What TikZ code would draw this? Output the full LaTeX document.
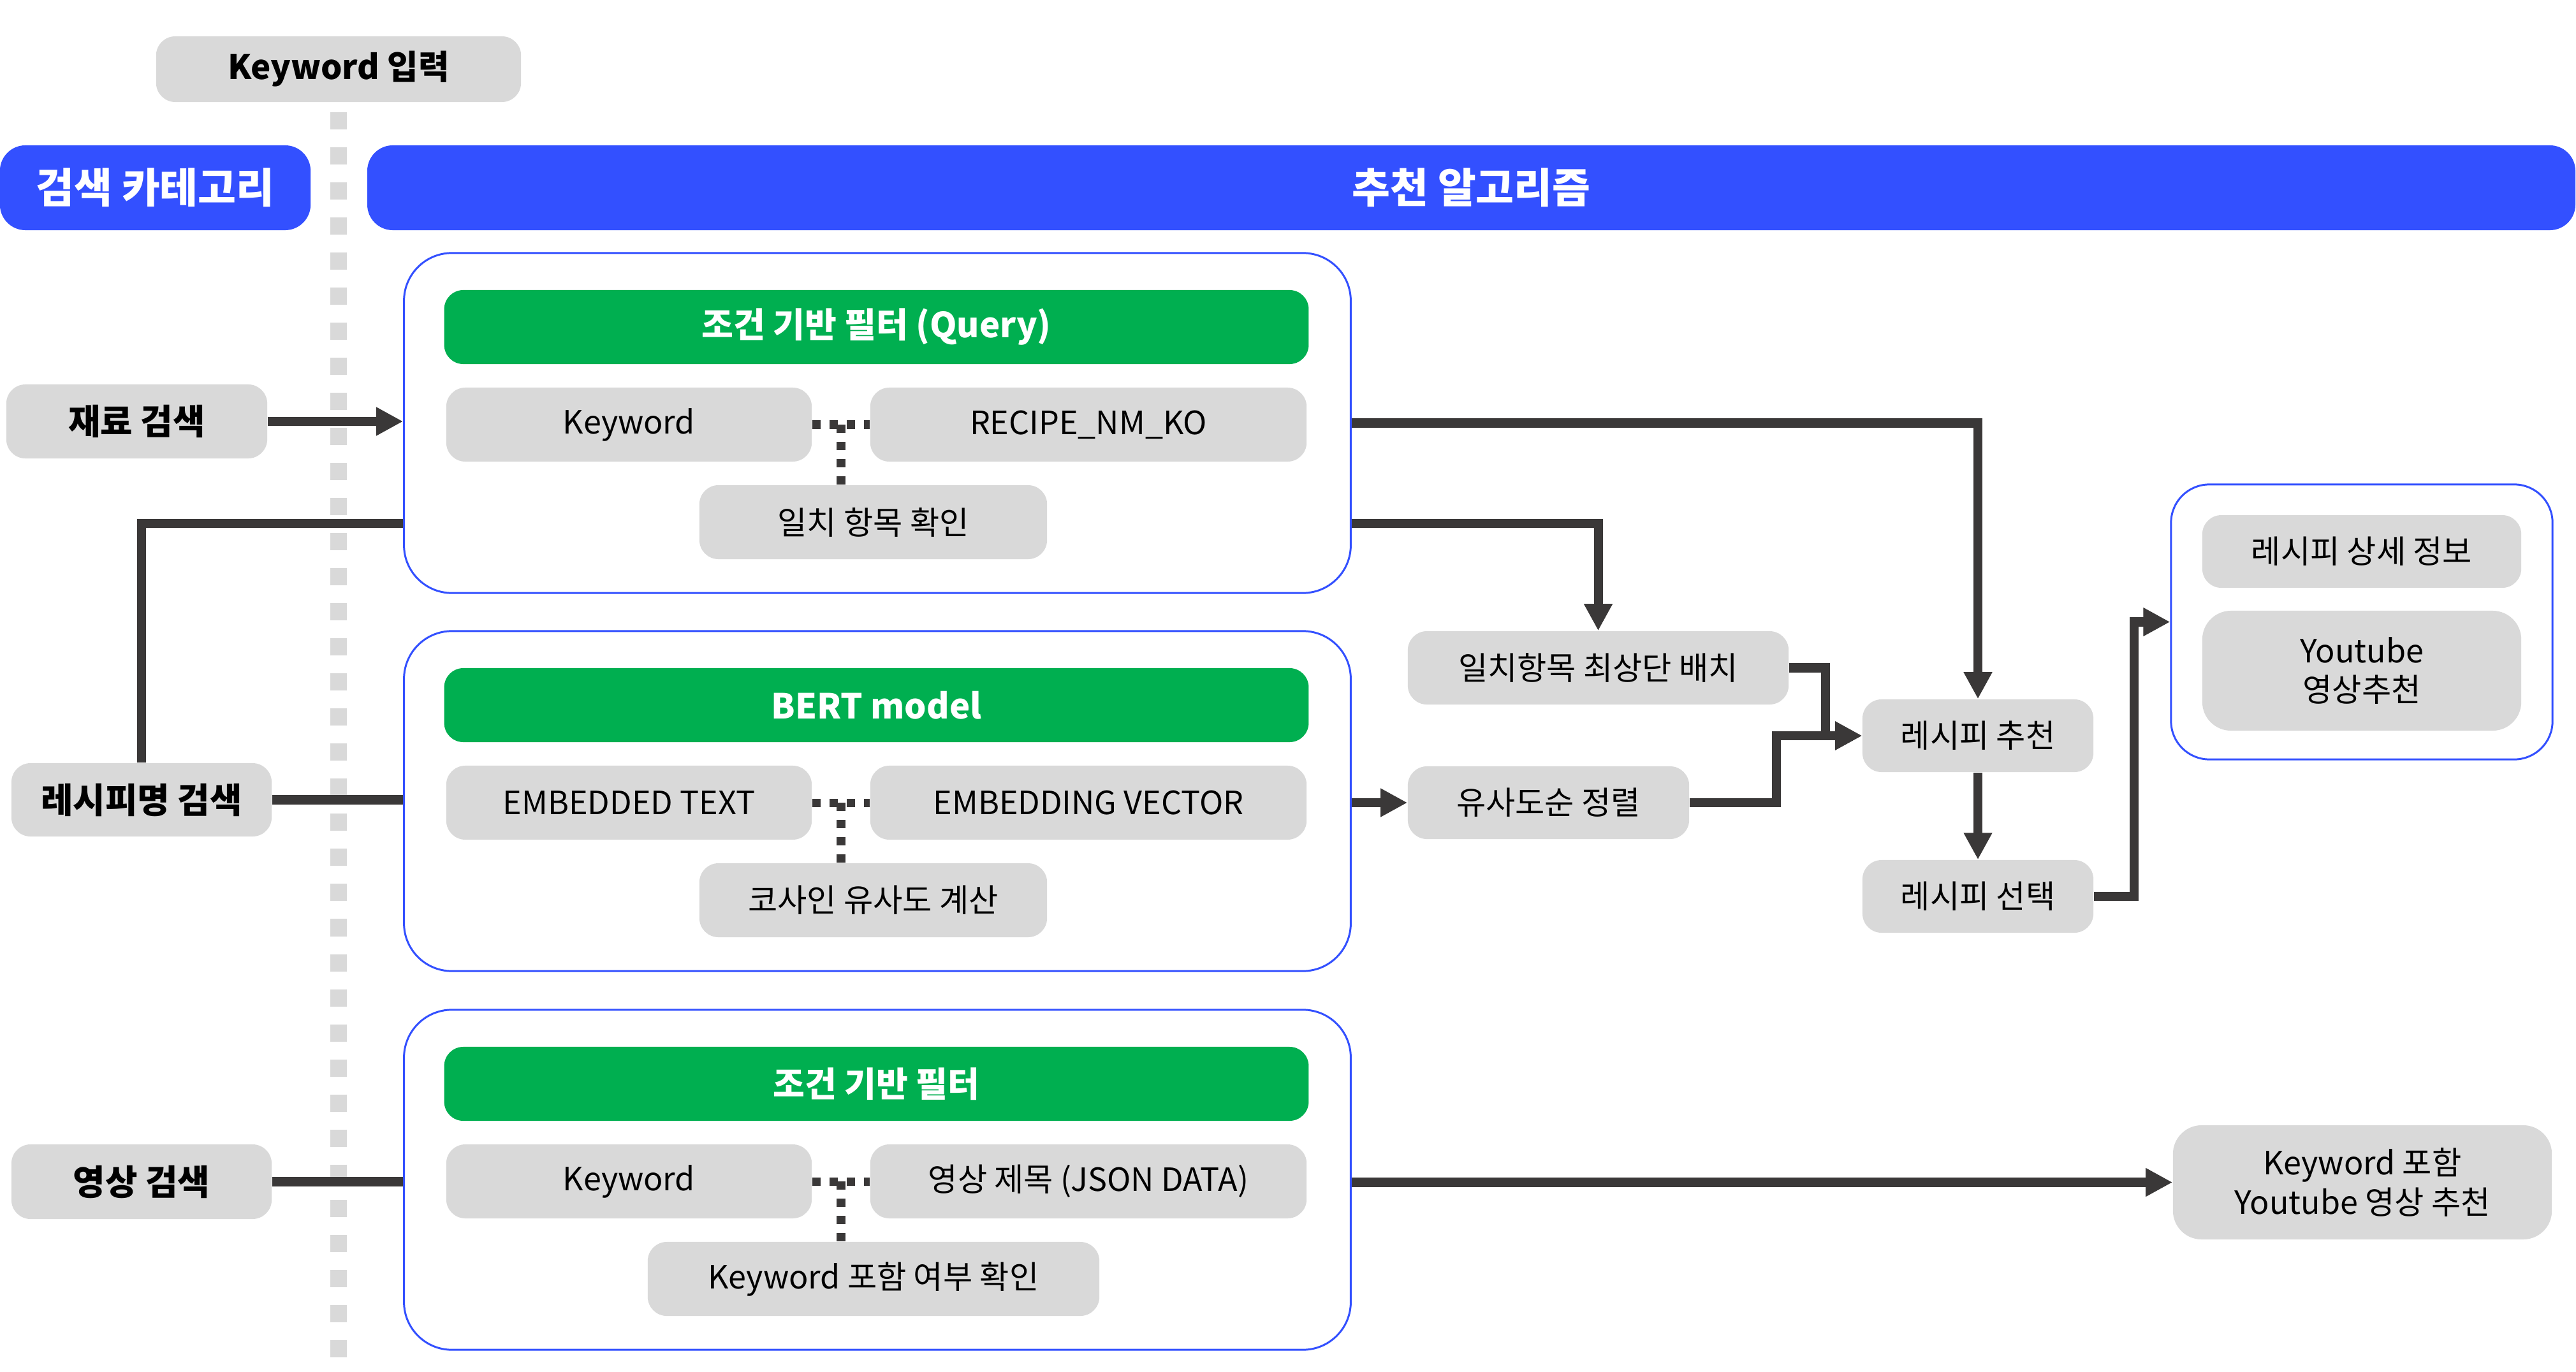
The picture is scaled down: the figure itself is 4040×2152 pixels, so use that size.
\documentclass[tikz,border=0pt]{standalone}
\usepackage{fontspec}
\setmainfont{Noto Sans CJK KR}
\usetikzlibrary{arrows.meta,calc}
\definecolor{hblue}{HTML}{3350FF}
\definecolor{hgreen}{HTML}{00AF50}
\definecolor{lgray}{HTML}{D9D9D9}
\definecolor{dline}{HTML}{3A3838}
\tikzset{
  txt/.style={font=\fontsize{14.3}{17.6}\selectfont, text=black, align=center},
  gbox/.style={txt, rectangle, fill=lgray, rounded corners=0.3cm, inner sep=0pt},
  bbox/.style={gbox, font=\fontsize{15.6}{18}\selectfont\bfseries},
  head/.style={rectangle, fill=hblue, rounded corners=0.4cm, text=white, inner sep=0pt, font=\fontsize{18.5}{21}\selectfont\bfseries},
  ghead/.style={rectangle, fill=hgreen, rounded corners=0.3cm, text=white, inner sep=0pt, font=\fontsize{15.4}{18}\selectfont\bfseries},
  cont/.style={rectangle, draw=hblue, line width=0.85pt, fill=white, rounded corners=0.75cm, inner sep=0pt},
  ln/.style={draw=dline, line width=4pt},
  arr/.style={ln, -{Triangle[length=0.42cm,width=0.42cm]}},
  dotln/.style={draw=dline, line width=3.7pt, dash pattern=on 3.7pt off 4pt},
}
\begin{document}
\begin{tikzpicture}[x=0.01cm,y=-0.01cm]
\useasboundingbox (0,0) rectangle (4040,2152);

% top header nodes
\node[gbox, font=\fontsize{15}{18}\selectfont\bfseries, minimum width=5.72cm, minimum height=1.03cm] (kin) at (531,108.5) {Keyword 입력};
\draw[line width=0.26cm, lgray, dash pattern=on 0.27cm off 0.28cm] ([yshift=-0.15cm]kin.south) -- (kin.south |- 0,2152);

\node[head, minimum width=4.87cm, minimum height=1.33cm] (cat) at (243.5,294.5) {검색 카테고리};
\node[head, minimum width=34.61cm, minimum height=1.33cm] (alg) at (2307.5,294.5) {추천 알고리즘};

% left search nodes
\node[bbox, minimum width=4.09cm, minimum height=1.16cm] (s1) at (214.5,661) {재료 검색};
\node[bbox, minimum width=4.08cm, minimum height=1.15cm] (s2) at (222,1254.5) {레시피명 검색};
\node[bbox, minimum width=4.08cm, minimum height=1.17cm] (s3) at (222,1853.5) {영상 검색};

% containers
\node[cont, minimum width=14.84cm, minimum height=5.33cm] (c1) at (1376,663.5) {};
\node[cont, minimum width=14.84cm, minimum height=5.33cm] (c2) at (1376,1256.5) {};
\node[cont, minimum width=14.84cm, minimum height=5.33cm] (c3) at (1376,1850.5) {};

% container 1
\node[ghead, minimum width=13.55cm, minimum height=1.16cm] (g1) at (1374.5,513) {조건 기반 필터 (Query)};
\node[gbox, minimum width=5.73cm, minimum height=1.16cm] (k1) at (986.5,666) {Keyword};
\node[gbox, minimum width=6.84cm, minimum height=1.16cm] (r1) at (1707,666) {RECIPE\_NM\_KO};
\node[gbox, minimum width=5.45cm, minimum height=1.16cm] (m1) at (1369.5,819) {일치 항목 확인};

% container 2
\node[ghead, minimum width=13.55cm, minimum height=1.16cm] (g2) at (1374.5,1106) {BERT model};
\node[gbox, minimum width=5.73cm, minimum height=1.16cm] (k2) at (986.5,1259) {EMBEDDED TEXT};
\node[gbox, minimum width=6.84cm, minimum height=1.16cm] (r2) at (1707,1259) {EMBEDDING VECTOR};
\node[gbox, minimum width=5.45cm, minimum height=1.16cm] (m2) at (1369.5,1412) {코사인 유사도 계산};

% container 3
\node[ghead, minimum width=13.55cm, minimum height=1.16cm] (g3) at (1374.5,1700) {조건 기반 필터};
\node[gbox, minimum width=5.73cm, minimum height=1.16cm] (k3) at (986.5,1853) {Keyword};
\node[gbox, minimum width=6.84cm, minimum height=1.16cm] (r3) at (1707,1853) {영상 제목 (JSON DATA)};
\node[gbox, minimum width=7.08cm, minimum height=1.16cm] (m3) at (1370,2006) {Keyword 포함 여부 확인};

% dotted joins
\foreach \i in {1,2,3}{
  \coordinate (j\i) at ($(k\i.east)!0.5!(r\i.west)$);
  \draw[dotln] (k\i.east) -- (r\i.west);
  \draw[dotln] (j\i) -- (j\i |- m\i.north);
}

% right side nodes
\node[gbox, minimum width=5.97cm, minimum height=1.15cm] (p1) at (2506.5,1047.5) {일치항목 최상단 배치};
\node[gbox, minimum width=4.41cm, minimum height=1.14cm] (p2) at (2428.5,1259) {유사도순 정렬};
\node[gbox, minimum width=3.62cm, minimum height=1.14cm] (rr) at (3102,1154) {레시피 추천};
\node[gbox, minimum width=3.62cm, minimum height=1.14cm] (rs) at (3102,1406) {레시피 선택};

\node[cont, rounded corners=0.6cm, minimum width=5.98cm, minimum height=4.31cm] (res) at (3704,975.5) {};
\node[gbox, minimum width=5.0cm, minimum height=1.14cm] (d1) at (3704,865) {레시피 상세 정보};
\node[gbox, rounded corners=0.45cm, minimum width=5.0cm, minimum height=1.88cm] (d2) at (3704,1052) {Youtube\\영상추천};
\node[gbox, rounded corners=0.45cm, minimum width=5.94cm, minimum height=1.79cm] (yt) at (3705,1854.5) {Keyword 포함\\Youtube 영상 추천};

% connectors
\draw[arr] (s1.east) -- (c1.west |- s1.east);
\draw[ln] ([yshift=-1.575cm]c1.west) -| (s2.north);
\draw[ln] (s2.east) -- (c2.west |- s2.east);
\draw[ln] (s3.east) -- (c3.west |- s3.east);

\draw[arr] (c1.east) -| (rr.north);
\draw[arr] ([yshift=-1.575cm]c1.east) -| (p1.north);
\draw[arr] (c2.east |- p2.west) -- (p2.west);
\draw[arr] (p1.east) -- ++(0.57cm,0) |- (rr.west);
\draw[arr] (p2.east) -- ++(1.36cm,0) |- (rr.west);
\draw[arr] (rr.south) -- (rs.north);
\draw[arr] (rs.east) -- ++(0.63cm,0) |- (res.west);
\draw[arr] (c3.east |- yt.west) -- (yt.west);
\end{tikzpicture}
\end{document}
